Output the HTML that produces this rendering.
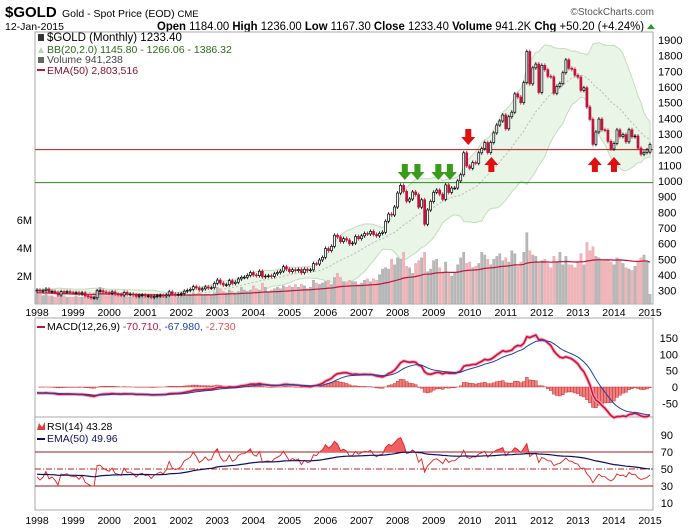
<!DOCTYPE html>
<html><head><meta charset="utf-8"><style>
body{margin:0;background:#fff;font-family:"Liberation Sans",sans-serif}
svg{display:block}
text{font-family:"Liberation Sans",sans-serif}
</style></head><body>
<svg id="c" width="700" height="530" viewBox="0 0 700 530" xmlns="http://www.w3.org/2000/svg">
<rect width="700" height="530" fill="#fff"/>
<g>
<text x="5" y="17" font-size="15" font-weight="bold">$GOLD</text>
<text x="62" y="17" font-size="10.5">Gold - Spot Price (EOD) <tspan font-size="9.5">CME</tspan></text>
<text x="654" y="15" font-size="10" fill="#555" text-anchor="end">©StockCharts.com</text>
<text x="5" y="30" font-size="10.5">12-Jan-2015</text>
<text x="157" y="30" font-size="11.5" textLength="487" lengthAdjust="spacingAndGlyphs"><tspan font-weight="bold">Open</tspan> 1184.00 <tspan font-weight="bold">High</tspan> 1236.00 <tspan font-weight="bold">Low</tspan> 1167.30 <tspan font-weight="bold">Close</tspan> 1233.40 <tspan font-weight="bold">Volume</tspan> 941.2K <tspan font-weight="bold">Chg</tspan> +50.20 (+4.24%)</text>
<path d="M647 29 L651 24 L655 29 Z" fill="#2a9a2a"/>
</g>
<g id="g"></g>
</svg>
<script>
const years=[1998,1999,2000,2001,2002,2003,2004,2005,2006,2007,2008,2009,2010,2011,2012,2013,2014,2015];
const closes=[304,297,301,310,293,296,288,273,294,292,294,288,
287,287,280,286,268,261,255,255,299,300,292,288,
284,292,278,275,272,289,277,278,273,264,270,272,
266,267,258,264,267,270,266,273,293,279,275,277,
282,297,302,308,326,318,305,312,324,317,319,347,
368,348,336,338,364,346,354,375,385,386,398,416,
400,396,424,388,393,395,391,408,416,425,453,438,
422,434,428,435,415,437,429,433,473,470,496,513,
569,556,583,654,643,613,632,623,599,604,646,632,
650,665,662,678,659,650,666,673,743,789,783,834,
923,972,934,871,885,930,913,833,880,724,815,869,
928,942,916,883,975,927,955,955,1001,1040,1180,1096,
1081,1118,1113,1180,1207,1245,1181,1246,1307,1357,1383,1421,
1333,1410,1439,1556,1536,1500,1628,1826,1620,1722,1746,1565,
1738,1710,1668,1664,1560,1604,1622,1691,1773,1719,1713,1675,
1663,1578,1595,1472,1393,1234,1313,1395,1327,1323,1253,1204,
1240,1326,1284,1296,1250,1327,1282,1287,1210,1171,1183,1199,
1233];
const firstOpen=298, lastOpen=1184;
const volumes=[.8,.7,.6,.7,.6,.6,.5,.6,.7,.6,.5,.5,
.5,.6,.5,.5,.6,.6,.7,.6,1.0,1.2,.8,.6,
.6,.9,.7,.6,.6,.6,.5,.5,.6,.5,.6,.5,
.5,.6,.5,.5,.7,.6,.5,.5,.8,.7,.6,.5,
.6,.8,.6,.6,.8,.7,.8,.6,.7,.7,.6,.8,
1.2,1.1,.9,.8,1.0,.9,.8,.9,1.2,1.0,.9,1.0,
1.3,1.1,1.0,1.5,1.2,.9,1.0,1.1,1.2,1.1,1.3,1.2,
1.3,1.2,1.4,1.2,1.4,1.3,1.1,1.2,1.7,1.5,1.4,1.5,
1.6,1.7,1.4,1.9,2.2,1.9,1.6,1.6,1.7,1.6,1.6,1.4,
1.5,1.7,1.8,1.6,1.8,1.7,2.1,2.5,2.6,2.5,3.2,2.8,
3.3,3.2,3.7,2.7,2.6,2.2,2.9,3.1,3.3,3.7,2.3,2.5,
3.1,3.2,2.6,2.3,3.0,2.2,2.0,2.2,2.8,3.3,3.7,2.9,
3.0,2.6,2.7,2.9,3.7,3.5,3.2,2.8,3.2,3.4,3.6,3.1,
3.3,3.0,3.8,3.6,2.7,3.0,3.7,5.1,3.8,3.5,3.4,2.9,
3.1,3.2,2.9,2.6,3.4,3.0,3.7,2.8,3.4,2.8,2.8,2.6,
3.0,3.6,2.8,4.4,3.8,4.1,3.4,3.3,3.2,3.1,3.2,3.0,
2.8,3.3,3.2,2.9,2.6,2.5,2.4,2.7,3.0,3.3,3.5,3.0,
.7];
const priceTicks=[300,400,500,600,700,800,900,1000,1100,1200,1300,1400,1500,1600,1700,1800,1900];
const volTicks=[2,4,6];
const volTickLabels=["2M","4M","6M"];
const macdTicks=[-50,0,50,100,150];
const rsiTicks=[10,30,50,70,90];
const levelRed=1200, levelGreen=990;
const downArrows=[{t:2008.2,c:"#3a9a1a"},{t:2008.55,c:"#3a9a1a"},{t:2009.13,c:"#3a9a1a"},{t:2009.45,c:"#3a9a1a"},{t:2009.96,c:"#e01010"}];
const upArrows=[2010.6,2013.47,2014.0];

const NS="http://www.w3.org/2000/svg";
const G=document.getElementById('g');
function mk(tag,attrs,parent){const e=document.createElementNS(NS,tag);for(const k in attrs)e.setAttribute(k,attrs[k]);(parent||G).appendChild(e);return e;}
const L=35,R=653;
const X=t=>37+(t-1998)*36.06;
const XI=i=>X(1998+i/12);
const PY=p=>181-(p-1000)*0.1567;
const VY=v=>304-v*14;
const MY=m=>387-m*0.3267;
const RY=r=>511.5-r*0.85;
const n=closes.length;
const opens=closes.map((c,i)=>i==0?firstOpen:(i==n-1?lastOpen:closes[i-1]));

const pm=mk('rect',{x:L,y:32,width:R-L,height:272,fill:'none',stroke:'#aaa'});


const pmc=mk('rect',{x:L,y:318,width:R-L,height:99,fill:'none',stroke:'#aaa'});


const pr=mk('rect',{x:L,y:417,width:R-L,height:93,fill:'none',stroke:'#aaa'});



const up=[],lo=[],mid=[];
for(let i=0;i<n;i++){const s=closes.slice(Math.max(0,i-19),i+1);const m=s.reduce((a,b)=>a+b,0)/s.length;const sd=Math.sqrt(s.reduce((a,b)=>a+(b-m)*(b-m),0)/s.length);mid.push(m);up.push(m+2*sd);lo.push(m-2*sd);}
let d='M'+up.map((v,i)=>XI(i).toFixed(1)+','+PY(v).toFixed(1)).join('L');
for(let i=n-1;i>=0;i--)d+='L'+XI(i).toFixed(1)+','+PY(lo[i]).toFixed(1);
const bb=mk('path',{d:d+'Z',fill:'#e9f5e6',stroke:'#c5dcc0','stroke-width':1});


const bbm=mk('path',{d:'M'+mid.map((v,i)=>XI(i).toFixed(1)+','+PY(v).toFixed(1)).join('L'),fill:'none',stroke:'#bbb','stroke-dasharray':'2,2'});



let ve=volumes[0];const vema=[];
for(let i=0;i<n;i++){
 const isUp=closes[i]>=opens[i];
 const b=mk('rect',{x:XI(i)-1.2,y:VY(volumes[i]),width:2.4,height:volumes[i]*14,fill:isUp?'#b8b8b8':'#f2b4b8',stroke:isUp?'#a0a0a0':'#e0a0a4','stroke-width':0.3});
 
 
 ve=i==0?volumes[0]:ve+(volumes[i]-ve)*2/51;vema.push(ve);
}
const vl=mk('path',{d:'M'+vema.map((v,i)=>XI(i).toFixed(1)+','+VY(v).toFixed(1)).join('L'),fill:'none',stroke:'#c0143c','stroke-width':1.2});



const lr=mk('line',{x1:L,x2:R,y1:PY(levelRed),y2:PY(levelRed),stroke:'#c01818','stroke-width':1});


const lg=mk('line',{x1:L,x2:R,y1:PY(levelGreen),y2:PY(levelGreen),stroke:'#2a8a1a','stroke-width':1});



for(let i=0;i<n;i++){
 const o=opens[i],c=closes[i],x=XI(i);
 const hi=Math.max(o,c),lw=Math.min(o,c);
 const col=(i>0&&c<closes[i-1])?'#c0143c':'#000';
 const w=mk('line',{x1:x,x2:x,y1:PY(hi)-2,y2:PY(lw)+2,stroke:col,'stroke-width':0.8});
 
 
 const bd=mk('rect',{x:x-1,y:PY(hi),width:2,height:Math.max(0.8,PY(lw)-PY(hi)),fill:c>=o?'#fff':col,stroke:col,'stroke-width':0.7});
 
 
}

for(const a of downArrows){
 const x=X(a.t),top=a.c=="#e01010"?129:164,tip=top+16;
 const ar=mk('path',{d:`M${x-3} ${top}h6v8h4l-7 ${tip-top-8}l-7 -${tip-top-8}h4z`,fill:a.c});
 
 
}
for(const t of upArrows){
 const x=X(t),tip=157;
 const ar=mk('path',{d:`M${x} ${tip}l7 8h-4v7h-6v-7h-4z`,fill:'#e01010'});
 
 
}

for(const p of priceTicks){const t=mk('text',{x:658,y:PY(p)+4,'font-size':11});t.textContent=p;
 
 }
volTicks.forEach((v,k)=>{const t=mk('text',{x:32,y:VY(v)+4,'font-size':11,'text-anchor':'end'});t.textContent=volTickLabels[k];
 
 });
for(const yy of years){for(const yb of [316,524]){const t=mk('text',{x:X(yy),y:yb,'font-size':10.5,'text-anchor':'middle'});t.textContent=yy;
 
 }}

const leg=[["$GOLD (Monthly) 1233.40","#000",41,11.5],["BB(20,2.0) 1145.80 - 1266.06 - 1386.32","#2a6a1a",53,10.5],["Volume 941,238","#444",63,10.5],["EMA(50) 2,803,516","#8a1030",74,10.5]];
for(const [s,c,y,f] of leg){const t=mk('text',{x:47,y:y,'font-size':f,fill:c});t.textContent=s;
 
 }
mk('rect',{x:38,y:34,width:6,height:7,fill:'#333'});
mk('path',{d:'M38 53l3-6l3 6z',fill:'#b8d8b0'});
mk('rect',{x:38,y:57,width:6,height:6,fill:'#666'});
mk('line',{x1:37,x2:45,y1:70,y2:70,stroke:'#c0143c','stroke-width':2});

const ema=(arr,p)=>{const k=2/(p+1);let e=arr[0];return arr.map(v=>e=e+(v-e)*k);};
const e12=ema(closes,12),e26=ema(closes,26);
const macd=e12.map((v,i)=>v-e26[i]-18);
const sig=ema(macd,9);
const hist=macd.map((v,i)=>v-sig[i]);
for(let i=0;i<n;i++){const y0=MY(0),y1=MY(hist[i]);
 const b=mk('rect',{x:XI(i)-1.5,y:Math.min(y0,y1),width:3,height:Math.abs(y1-y0),fill:'#f08080',stroke:'#c02020','stroke-width':0.4});
 
 }
const ml=macd.map((v,i)=>XI(i).toFixed(1)+','+MY(v).toFixed(1)).join('L');
mk('path',{d:'M'+ml,fill:'none',stroke:'#f6b0c0','stroke-width':3.5});
const mline=mk('path',{d:'M'+ml,fill:'none',stroke:'#d0103a','stroke-width':1.6});


const sline=mk('path',{d:'M'+sig.map((v,i)=>XI(i).toFixed(1)+','+MY(v).toFixed(1)).join('L'),fill:'none',stroke:'#2040b0','stroke-width':1});


for(const m of macdTicks){const t=mk('text',{x:678,y:MY(m)+4,'font-size':11,'text-anchor':'end'});t.textContent=m;
 
 }
const mt=mk('text',{x:47,y:330,'font-size':10.5});
mt.innerHTML='MACD(12,26,9) <tspan fill="#c0143c">-70.710,</tspan> <tspan fill="#2040b0">-67.980,</tspan> <tspan fill="#e05050">-2.730</tspan>';


mk('line',{x1:37,x2:45,y1:327,y2:327,stroke:'#c0143c','stroke-width':2});

let ag=2.2,al=3.2;const rsi=[];
for(let i=0;i<n;i++){if(i==0){rsi.push(100-100/(1+ag/al));continue;}const ch=closes[i]-closes[i-1];const g=Math.max(ch,0),l=Math.max(-ch,0);
 ag=(ag*13+g)/14;al=(al*13+l)/14;rsi.push(al==0?100:100-100/(1+ag/al));}
const rema=(()=>{const k=2/51;let e=44;return rsi.map(v=>e=e+(v-e)*k);})();
for(const lv of [70,30]){const l=mk('line',{x1:L,x2:R,y1:RY(lv),y2:RY(lv),stroke:'#a01818'});
 
 }
const l50=mk('line',{x1:L,x2:R,y1:RY(50),y2:RY(50),stroke:'#c02020','stroke-dasharray':'6,2,1,2'});


const rp=rsi.map((v,i)=>XI(i).toFixed(1)+','+RY(v).toFixed(1)).join('L');
const cp=mk('clipPath',{id:'ob'});
mk('rect',{x:L,y:417,width:R-L,height:RY(70)-417},cp);
const fillP=mk('path',{d:'M'+XI(0)+','+RY(70)+'L'+rp+'L'+XI(n-1)+','+RY(70)+'Z',fill:'#f06060','clip-path':'url(#ob)'});


const rl=mk('path',{d:'M'+rp,fill:'none',stroke:'#e02020','stroke-width':0.9});


const re=mk('path',{d:'M'+rema.map((v,i)=>XI(i).toFixed(1)+','+RY(v).toFixed(1)).join('L'),fill:'none',stroke:'#101060','stroke-width':1.2});


for(const r of rsiTicks){const t=mk('text',{x:673,y:RY(r)+4,'font-size':11,'text-anchor':'end'});t.textContent=r;
 
 }
const rt=mk('text',{x:47,y:430,'font-size':10.5});rt.textContent='RSI(14) 43.28';


mk('path',{d:'M37 430l2-7l3 4l3-5v8z',fill:'#e04040'});
const rt2=mk('text',{x:47,y:442,'font-size':10.5,fill:'#101060'});rt2.textContent='EMA(50) 49.96';


mk('line',{x1:37,x2:45,y1:439,y2:439,stroke:'#101060','stroke-width':2});
</script>
</body></html>
